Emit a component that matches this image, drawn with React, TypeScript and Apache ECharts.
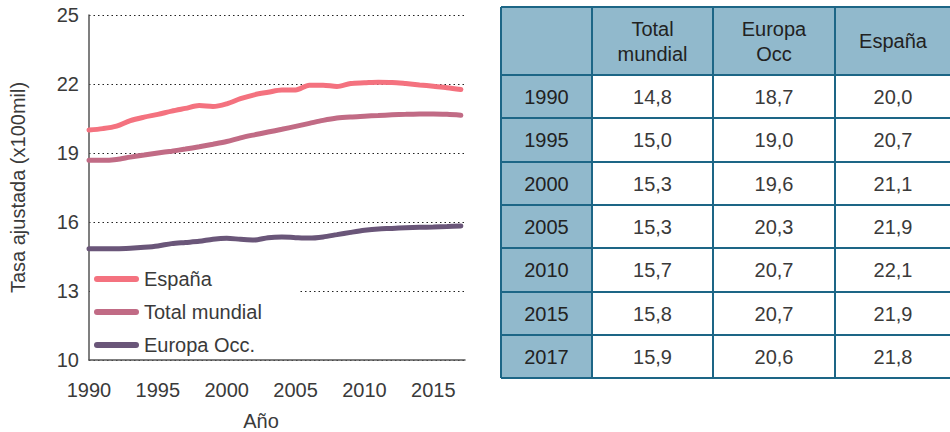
import React, { useEffect, useRef } from "react";
import * as echarts from "echarts";

const years = [1990, 1991, 1992, 1993, 1994, 1995, 1996, 1997, 1998, 1999, 2000, 2001, 2002, 2003, 2004, 2005, 2006, 2007, 2008, 2009, 2010, 2011, 2012, 2013, 2014, 2015, 2016, 2017];
const espana = [20.0, 20.06, 20.17, 20.41, 20.56, 20.68, 20.82, 20.94, 21.06, 21.02, 21.14, 21.36, 21.53, 21.64, 21.74, 21.74, 21.95, 21.95, 21.89, 22.02, 22.05, 22.08, 22.07, 22.02, 21.96, 21.9, 21.84, 21.76];
const totalMundial = [18.68, 18.68, 18.72, 18.82, 18.91, 19.0, 19.08, 19.17, 19.27, 19.38, 19.5, 19.66, 19.79, 19.91, 20.03, 20.16, 20.29, 20.42, 20.52, 20.57, 20.6, 20.63, 20.66, 20.68, 20.7, 20.7, 20.68, 20.64];
const europaOcc = [14.84, 14.84, 14.84, 14.86, 14.9, 14.96, 15.06, 15.11, 15.16, 15.25, 15.29, 15.25, 15.22, 15.32, 15.35, 15.32, 15.3, 15.35, 15.45, 15.55, 15.64, 15.7, 15.72, 15.75, 15.77, 15.78, 15.8, 15.83];

const seriesNames = ["España", "Total mundial", "Europa Occ."];
const seriesColors = ["#f4727f", "#c16b85", "#6a5679"];

const tableYears = [1990, 1995, 2000, 2005, 2010, 2015, 2017];
const tableTotal = [14.8, 15.0, 15.3, 15.3, 15.7, 15.8, 15.9];
const tableEuropa = [18.7, 19.0, 19.6, 20.3, 20.7, 20.7, 20.6];
const tableEspana = [20.0, 20.7, 21.1, 21.9, 22.1, 21.9, 21.8];
const tableHeaders = ["", "Total\nmundial", "Europa\nOcc", "España"];

const FONT = "'Liberation Sans', Arial, sans-serif";
const TEXT = "#3a3a3a";

function fmt(v: number) {
  return v.toFixed(1).replace(".", ",");
}

function buildTable() {
  const colX = [501, 592, 713, 835, 951];
  const rowY = [7, 75, 118, 162, 205, 248, 292, 335, 378];
  const headFill = "#91b9cc";
  const border = "#1d6686";
  const els: any[] = [];
  els.push({ type: "rect", shape: { x: colX[0], y: rowY[0], width: colX[4] - colX[0], height: rowY[1] - rowY[0] }, style: { fill: headFill } });
  els.push({ type: "rect", shape: { x: colX[0], y: rowY[1], width: colX[1] - colX[0], height: rowY[8] - rowY[1] }, style: { fill: headFill } });
  for (let i = 0; i < rowY.length; i++) {
    els.push({ type: "line", shape: { x1: colX[0], y1: rowY[i], x2: colX[4], y2: rowY[i] }, style: { stroke: border, lineWidth: 2 } });
  }
  for (let j = 0; j < colX.length; j++) {
    els.push({ type: "line", shape: { x1: colX[j], y1: rowY[0], x2: colX[j], y2: rowY[8] }, style: { stroke: border, lineWidth: 2 } });
  }
  for (let j = 1; j < 4; j++) {
    els.push({
      type: "text",
      x: (colX[j] + colX[j + 1]) / 2,
      y: (rowY[0] + rowY[1]) / 2,
      style: { text: tableHeaders[j], fill: "#222", font: `20px ${FONT}`, align: "center", verticalAlign: "middle", lineHeight: 25 },
    });
  }
  const cols = [tableTotal, tableEuropa, tableEspana];
  for (let i = 0; i < tableYears.length; i++) {
    const cy = (rowY[i + 1] + rowY[i + 2]) / 2;
    els.push({
      type: "text",
      x: (colX[0] + colX[1]) / 2,
      y: cy,
      style: { text: String(tableYears[i]), fill: "#222", font: `20px ${FONT}`, align: "center", verticalAlign: "middle" },
    });
    for (let j = 0; j < 3; j++) {
      els.push({
        type: "text",
        x: (colX[j + 1] + colX[j + 2]) / 2,
        y: cy,
        style: { text: fmt(cols[j][i]), fill: TEXT, font: `20px ${FONT}`, align: "center", verticalAlign: "middle" },
      });
    }
  }
  return els;
}

export default function App() {
  const ref = useRef<HTMLDivElement>(null);
  useEffect(() => {
    if (!ref.current) return;
    const chart = echarts.init(ref.current, undefined, { renderer: "svg" });
    const data = [espana, totalMundial, europaOcc];
    const pill = "path://M3,0 H42 A3,3 0 0 1 42,6 H3 A3,3 0 0 1 3,0 Z";
    chart.setOption({
      animation: false,
      textStyle: { fontFamily: FONT },
      grid: { left: 89, right: 485, top: 15, bottom: 72, containLabel: false },
      xAxis: {
        type: "value",
        min: 1990,
        max: 2017.3,
        interval: 5,
        axisLine: { show: true, lineStyle: { color: "#555", width: 1.5 } },
        axisTick: { show: false },
        splitLine: { show: false },
        axisLabel: {
          color: TEXT,
          fontSize: 20,
          margin: 20,
          showMaxLabel: false,
          formatter: (v: number) => (v % 5 === 0 ? String(v) : ""),
        },
      },
      yAxis: {
        type: "value",
        min: 10,
        max: 25,
        interval: 3,
        axisLine: { show: true, lineStyle: { color: "#555", width: 1.5 } },
        axisTick: { show: false },
        axisLabel: { color: TEXT, fontSize: 20, margin: 10 },
        splitLine: { show: true, lineStyle: { color: "#222", type: [1.5, 3], width: 1 } },
        name: "Tasa ajustada (x100mil)",
        nameLocation: "middle",
        nameGap: 61,
        nameTextStyle: { color: TEXT, fontSize: 20 },
      },
      legend: {
        orient: "vertical",
        left: 89,
        top: 264,
        itemWidth: 45,
        itemHeight: 6,
        itemGap: 13,
        itemTextGap: 5,
        z: 10,
        textStyle: { color: TEXT, fontSize: 20 },
        data: seriesNames.map((n) => ({ name: n, icon: pill })),
      },
      graphic: [
        { type: "rect", z: 3, shape: { x: 90, y: 262, width: 210, height: 97 }, style: { fill: "#fff" } },
        { type: "text", x: 261, y: 421, style: { text: "Año", fill: TEXT, font: `20px ${FONT}`, align: "center", verticalAlign: "middle" } },
        ...buildTable(),
      ],
      series: seriesNames.map((n, k) => ({
        name: n,
        type: "line",
        data: years.map((y, i) => [y, data[k][i]]),
        smooth: 0.3,
        showSymbol: false,
        color: seriesColors[k],
        lineStyle: { width: 5, color: seriesColors[k], cap: "round" },
        z: 2,
      })),
    });
    return () => chart.dispose();
  }, []);
  return <div ref={ref} style={{ position: "fixed", left: 0, top: 0, width: 950, height: 432, background: "#fff" }} />;
}
